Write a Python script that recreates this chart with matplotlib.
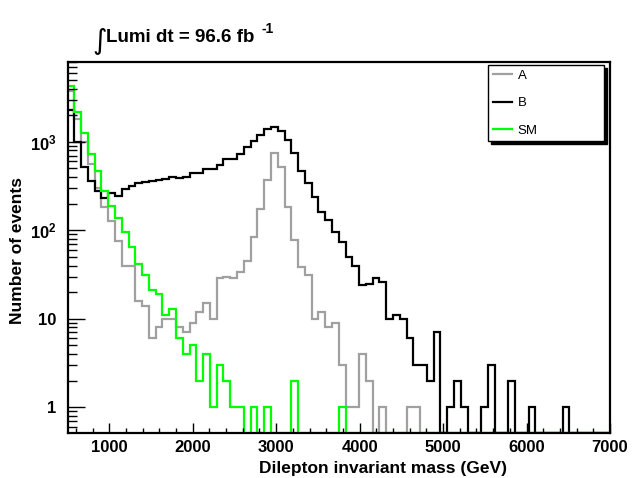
import numpy as np
import matplotlib
matplotlib.use("Agg")
import matplotlib.pyplot as plt
from matplotlib.lines import Line2D
from matplotlib.ticker import MultipleLocator, LogLocator, NullFormatter

plt.rcParams['font.family'] = ['Liberation Sans', 'DejaVu Sans']
plt.rcParams['mathtext.fontset'] = 'custom'
plt.rcParams['mathtext.rm'] = 'Liberation Sans'
plt.rcParams['mathtext.bf'] = 'Liberation Sans:bold'

# 80 bins, 500 - 7000 GeV
edges = np.linspace(500, 7000, 81)

# sample A (grey)
a_vals = np.zeros(80)
a_vals[:52] = [3800, 1800, 1000, 557, 298, 185, 128, 75, 40, 40,
               16, 14, 6, 8, 10, 10, 8, 7, 9, 12,
               15, 10, 29, 30, 29, 34, 45, 83, 176, 370,
               753, 515, 185, 77, 38, 31, 10, 12, 8, 9,
               3, 1, 1, 4, 2, 0, 1, 0, 0, 0,
               1, 1]

# sample B (black)
b_vals = np.zeros(80)
b_vals[:74] = [2290, 1000, 523, 360, 276, 234, 264, 244, 290, 320,
               340, 350, 365, 372, 375, 400, 390, 400, 441, 441,
               490, 495, 547, 634, 634, 728, 867, 1029, 1184, 1406,
               1459, 1334, 1047, 741, 470, 338, 240, 160, 130, 96,
               74, 50, 39, 24, 25, 29, 26, 10, 11, 10,
               6, 3, 3, 2, 7, 0, 1, 2, 1, 0,
               0, 1, 3, 0, 0, 2, 0, 0, 1, 0,
               0, 0, 0, 1]

# Standard Model (green)
sm_vals = np.zeros(80)
sm_vals[:41] = [4270, 2190, 1250, 728, 471, 278, 190, 138, 95, 64,
                42, 31, 21, 19, 11, 13, 6, 4, 5, 2,
                4, 1, 3, 2, 1, 1, 0, 1, 0, 1,
                0, 0, 0, 2, 0, 0, 0, 0, 0, 0,
                1]

labels = ['A', 'B', 'SM']
colors = ['#a0a0a0', 'black', '#00ff00']
x_ticks = [1000, 2000, 3000, 4000, 5000, 6000, 7000]
y_ticks = [1, 10, 100, 1000]
y_ticklabels = ['1', '10', r'$\mathbf{10^{2}}$', r'$\mathbf{10^{3}}$']

ymin, ymax = 0.516, 8040

fig = plt.figure(figsize=(6.33, 4.78), dpi=100)
ax = fig.add_axes([67.5 / 633, 1 - 432.7 / 478, 542.5 / 633, 371 / 478])

for vals, col in zip([a_vals, b_vals, sm_vals], colors):
    # empty bins sit on the bottom of the frame, like ROOT does
    v = np.where(vals > 0, vals, ymin)
    ax.stairs(v, edges, color=col, lw=1.6, baseline=None)

ax.set_yscale('log')
ax.set_xlim(500, 7000)
ax.set_ylim(ymin, ymax)

ax.set_xticks(x_ticks)
ax.xaxis.set_minor_locator(MultipleLocator(200))
ax.set_yticks(y_ticks, y_ticklabels)
ax.yaxis.set_minor_locator(LogLocator(subs=np.arange(2, 10)))
ax.yaxis.set_minor_formatter(NullFormatter())

ax.tick_params(which='both', direction='in', top=False, right=False, width=1)
ax.tick_params(axis='x', which='major', length=7.5, labelsize=12, pad=5)
ax.tick_params(axis='x', which='minor', length=3.8)
ax.tick_params(axis='y', which='major', length=12, labelsize=12, pad=8)
ax.tick_params(axis='y', which='minor', length=6.3)
for lab in ax.get_xticklabels() + ax.get_yticklabels():
    lab.set_fontweight('bold')
for sp in ax.spines.values():
    sp.set_linewidth(1.6)

ax.set_xlabel("Dilepton invariant mass (GeV)", fontsize=12.5, fontweight='bold',
              ha='right', va='baseline')
ax.xaxis.set_label_coords(0.81, -0.109)
ax.set_ylabel("Number of events", fontsize=12.5, fontweight='bold',
              ha='center', va='center')
ax.yaxis.set_label_coords(-0.093, 0.49)

handles = [Line2D([], [], color=c, lw=1.6) for c in colors]
leg = ax.legend(handles, labels, loc='upper left',
                bbox_to_anchor=(0.775, 0.786, 0.214, 0.205), mode='expand',
                borderaxespad=0, fancybox=False, framealpha=1,
                edgecolor='black', shadow={'color': 'black', 'alpha': 1},
                fontsize=9.5, handlelength=1.5, handletextpad=0.4,
                labelspacing=1.15, borderpad=0.35)
leg.get_frame().set_linewidth(1.0)

# luminosity title
fig.text(92 / 633, 1 - 41 / 478, '\u222b', fontsize=20, ha='left', va='center',
         family=['DejaVu Sans'])
fig.text(106 / 633, 1 - 42 / 478, 'Lumi dt = 96.6 fb', fontsize=13.5,
         fontweight='bold', ha='left', va='baseline')
fig.text(262 / 633, 1 - 33 / 478, '-1', fontsize=10, fontweight='bold',
         ha='left', va='baseline')

fig.savefig("out.png", dpi=100)
